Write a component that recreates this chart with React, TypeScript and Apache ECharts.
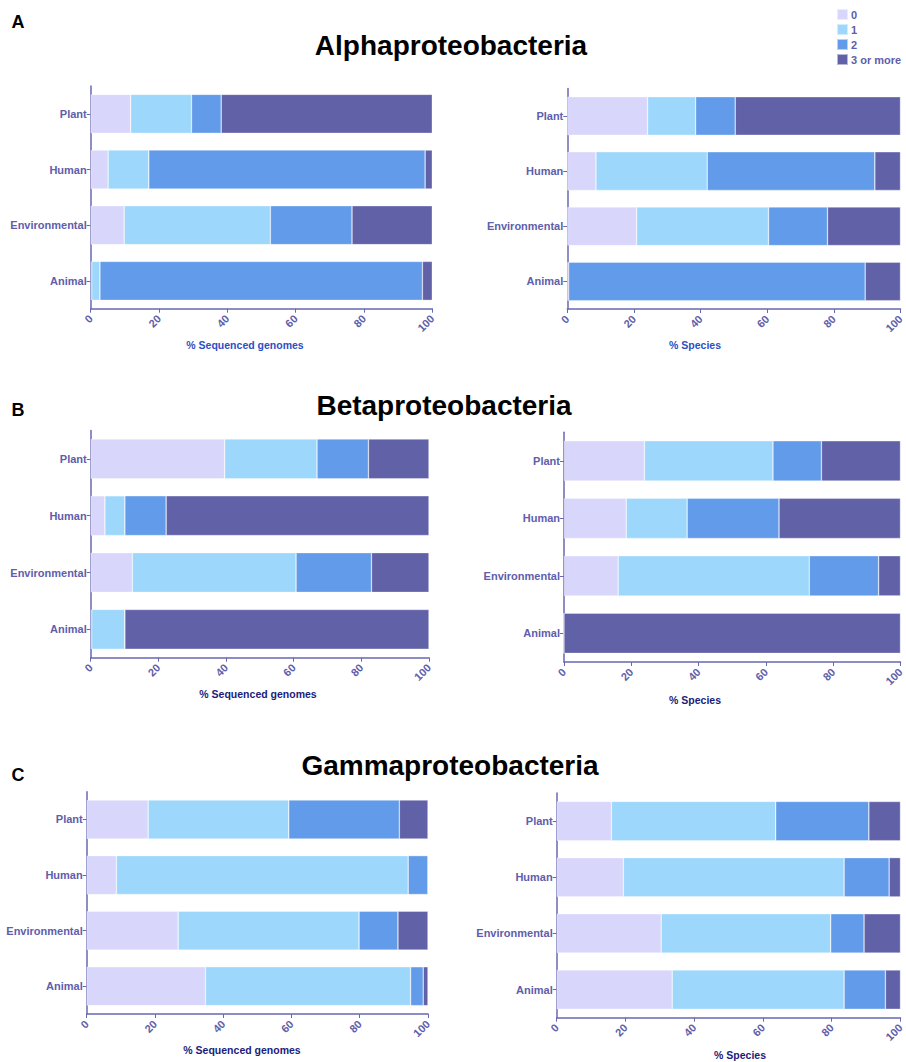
import React, { useEffect, useRef } from "react";
import * as echarts from "echarts";

const categories = ["Plant", "Human", "Environmental", "Animal"];
const classes = ["0", "1", "2", "3 or more"];
const classColors = ["#d8d6fb", "#9dd7fc", "#619be9", "#6161a8"];
const xTicks = [0, 20, 40, 60, 80, 100];

// each panel: one array per class, values in category order (Plant, Human, Environmental, Animal)
const alphaGenomes = [
  [11.7, 5.1, 9.8, 0.3],
  [17.8, 11.9, 42.8, 2.4],
  [8.7, 80.9, 23.9, 94.4],
  [61.8, 2.1, 23.5, 2.9],
];
const alphaSpecies = [
  [24.1, 8.6, 20.8, 0.4],
  [14.4, 33.4, 39.6, 0],
  [11.9, 50.3, 17.7, 89.0],
  [49.6, 7.7, 21.9, 10.6],
];
const betaGenomes = [
  [39.6, 4.2, 12.3, 0.3],
  [27.3, 5.9, 48.4, 9.8],
  [15.2, 12.2, 22.3, 0],
  [17.9, 77.7, 17.0, 89.9],
];
const betaSpecies = [
  [23.9, 18.5, 16.1, 0],
  [38.2, 18.1, 56.8, 0],
  [14.4, 27.3, 20.6, 0],
  [23.5, 36.1, 6.5, 100],
];
const gammaGenomes = [
  [18.0, 8.7, 26.8, 34.8],
  [41.2, 85.5, 53.0, 60.1],
  [32.4, 5.8, 11.4, 3.7],
  [8.4, 0, 8.8, 1.4],
];
const gammaSpecies = [
  [15.9, 19.4, 30.4, 33.6],
  [47.8, 64.2, 49.3, 50.0],
  [27.1, 13.1, 9.7, 12.0],
  [9.2, 3.3, 10.6, 4.4],
];

const panelTitles = ["Alphaproteobacteria", "Betaproteobacteria", "Gammaproteobacteria"];
const panelLetters = ["A", "B", "C"];
const axisNames = ["% Sequenced genomes", "% Species"];

const panels = [alphaGenomes, alphaSpecies, betaGenomes, betaSpecies, gammaGenomes, gammaSpecies];

// layout (pixels)
const grids = [
  { x1: 90.7, x2: 432.3, y1: 86, y2: 308.7 },
  { x1: 567.3, x2: 900.5, y1: 88.4, y2: 309 },
  { x1: 90.7, x2: 429, y1: 430.5, y2: 657.7 },
  { x1: 564, x2: 900.5, y1: 432.2, y2: 662 },
  { x1: 86.7, x2: 428, y1: 791.7, y2: 1014 },
  { x1: 556.7, x2: 900.5, y1: 793, y2: 1017.7 },
];
const axisNamePos = [
  { x: 245, y: 345, c: "#2b4fc4" },
  { x: 695, y: 345, c: "#2b4fc4" },
  { x: 258, y: 694, c: "#1c1c7a" },
  { x: 695, y: 700, c: "#1c1c7a" },
  { x: 242, y: 1050, c: "#1c1c7a" },
  { x: 740, y: 1055, c: "#1c1c7a" },
];
const titlePos = [
  { x: 451, y: 45 },
  { x: 444, y: 405 },
  { x: 450, y: 765 },
];
const letterPos = [
  { x: 18, y: 22 },
  { x: 18, y: 410 },
  { x: 18, y: 775 },
];

const W = 906;
const H = 1062;
const labelColor = "#5e5eab";
const lineColor = "#6868b2";
const FONT = "Liberation Sans, Arial, sans-serif";

export default function App() {
  const ref = useRef<HTMLDivElement>(null);
  useEffect(() => {
    document.body.style.margin = "0";
    document.body.style.overflow = "hidden";
    document.documentElement.style.overflow = "hidden";
    if (!ref.current) return;
    const chart = echarts.init(ref.current, null, { renderer: "svg", width: W, height: H });

    const grid = grids.map((g) => ({
      left: g.x1,
      top: g.y1,
      width: g.x2 - g.x1,
      height: g.y2 - g.y1,
      containLabel: false,
      outerBoundsMode: "none",
    }));

    const xAxis = grids.map((_, i) => ({
      type: "value",
      gridIndex: i,
      min: xTicks[0],
      max: xTicks[xTicks.length - 1],
      interval: xTicks[1] - xTicks[0],
      splitLine: { show: false },
      axisLine: { show: true, lineStyle: { color: lineColor, width: 1.5 } },
      axisTick: { show: true, length: 4, lineStyle: { color: lineColor } },
      axisLabel: {
        rotate: 45,
        color: labelColor,
        fontSize: 11,
        fontWeight: "bold",
        fontFamily: FONT,
        margin: 8,
      },
    }));

    const yAxis = grids.map((_, i) => ({
      type: "category",
      gridIndex: i,
      data: categories,
      inverse: true,
      axisLine: { show: true, lineStyle: { color: lineColor, width: 1.5 } },
      axisTick: { show: true, length: 4, alignWithLabel: true, lineStyle: { color: lineColor } },
      axisLabel: {
        color: labelColor,
        fontSize: 11,
        fontWeight: "bold",
        fontFamily: FONT,
        margin: 4,
      },
    }));

    const series: any[] = [];
    panels.forEach((panel, p) => {
      panel.forEach((vals, k) => {
        series.push({
          type: "bar",
          name: classes[k],
          xAxisIndex: p,
          yAxisIndex: p,
          stack: "panel" + p,
          barWidth: "70%",
          data: vals,
          itemStyle: {
            color: classColors[k],
            borderColor: "rgba(255,255,255,0.55)",
            borderWidth: 0.6,
          },
        });
      });
    });

    const graphic: any[] = [];
    panelTitles.forEach((t, i) => {
      graphic.push({
        type: "text",
        x: titlePos[i].x,
        y: titlePos[i].y,
        style: {
          text: t,
          align: "center",
          verticalAlign: "middle",
          fontSize: 28,
          fontWeight: "bold",
          fontFamily: FONT,
          fill: "#000",
        },
      });
      graphic.push({
        type: "text",
        x: letterPos[i].x,
        y: letterPos[i].y,
        style: {
          text: panelLetters[i],
          align: "center",
          verticalAlign: "middle",
          fontSize: 18,
          fontWeight: "bold",
          fontFamily: FONT,
          fill: "#000",
        },
      });
    });
    axisNamePos.forEach((a, i) => {
      graphic.push({
        type: "text",
        x: a.x,
        y: a.y,
        style: {
          text: axisNames[i % 2],
          align: "center",
          verticalAlign: "middle",
          fontSize: 10.5,
          fontWeight: "bold",
          fontFamily: FONT,
          fill: a.c,
        },
      });
    });

    chart.setOption({
      animation: false,
      backgroundColor: "#ffffff",
      legend: {
        data: classes.map((c, k) => ({ name: c, itemStyle: { color: classColors[k] } })),
        orient: "vertical",
        left: 836,
        top: 8,
        itemWidth: 11,
        itemHeight: 11,
        itemGap: 2,
        icon: "rect",
        padding: 0,
        textStyle: {
          color: labelColor,
          fontSize: 11,
          fontWeight: "bold",
          fontFamily: FONT,
          padding: [0, 0, 0, -2],
        },
      },
      grid,
      xAxis,
      yAxis,
      series,
      graphic,
    });

    return () => {
      chart.dispose();
    };
  }, []);

  return <div ref={ref} style={{ width: W, height: H }} />;
}
